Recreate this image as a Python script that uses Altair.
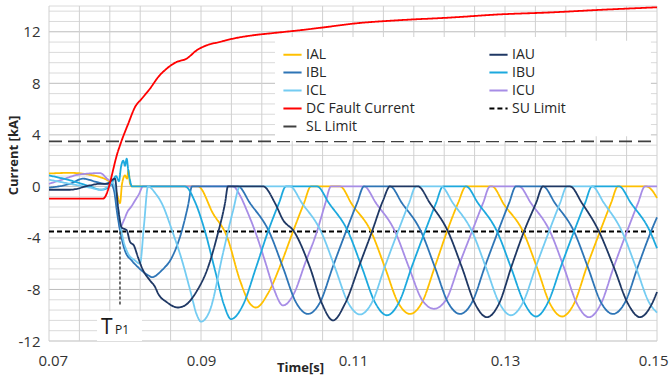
import altair as alt
import pandas as pd

# ---- data (time in ms, current in kA) ----
t_IAL = [70.0, 72.76, 75.39, 76.71, 77.76, 78.42, 78.95, 79.34, 79.61, 80.0, 80.26, 80.46, 80.66, 80.92,
         89.61, 91.58, 93.42, 95.13, 96.45, 97.24, 98.82, 100.53, 102.11, 103.55, 104.47,
         108.29, 109.87, 112.37, 114.21, 115.92, 117.5, 119.08, 120.79, 122.37, 123.82, 124.87,
         128.29, 129.87, 132.37, 134.21, 135.92, 137.5, 139.08, 140.79, 142.5, 143.95, 144.87,
         148.55, 149.34, 150.0]
v_IAL = [1.0, 1.05, 0.9, 0.72, 0.45, 0.1, -0.6, -1.3, 0.2, 0.85, 0.6, 1.25, 0.2, 0.0,
         0.0, -2.1, -3.9, -7.3, -9.1, -9.4, -8.3, -6.0, -3.5, -1.3, 0.0,
         0.0, -1.4, -3.5, -6.3, -9.0, -9.9, -9.0, -6.2, -3.5, -1.3, 0.0,
         0.0, -1.4, -3.5, -6.3, -9.1, -10.1, -9.1, -6.2, -3.5, -1.3, 0.0,
         0.0, -0.3, -0.9]

t_IAU = [70.0, 72.76, 75.39, 76.71, 77.76, 78.29, 78.68, 79.08, 79.57, 80.22, 80.66, 81.18, 81.71, 82.37,
         83.29, 83.95, 84.34, 85.53, 86.97, 87.89, 89.47, 90.79, 92.11, 93.16, 93.55,
         98.16, 99.74, 100.79, 102.24, 104.34, 105.92, 107.37, 108.95, 110.92, 112.5, 113.95, 114.87,
         118.55, 120.13, 122.5, 124.34, 126.05, 127.63, 129.21, 130.92, 132.5, 134.08, 135.0,
         138.55, 140.13, 142.37, 144.34, 146.18, 147.76, 149.34, 150.0]
v_IAU = [-0.26, -0.26, 0.08, 0.2, 0.2, 0.5, 0.6, -1.6, -3.2, -3.4, -4.3, -4.6, -5.5, -6.5,
         -7.3, -7.8, -8.3, -9.0, -9.4, -9.24, -8.1, -6.5, -3.9, -1.3, 0.0,
         0.0, -1.3, -2.6, -3.5, -6.3, -9.1, -10.4, -9.1, -6.0, -3.5, -1.1, 0.0,
         0.0, -1.3, -3.5, -6.3, -9.1, -10.15, -9.1, -6.1, -3.5, -1.3, 0.0,
         0.0, -1.3, -3.5, -6.3, -9.1, -10.15, -9.1, -8.2]

t_IBL = [70.0, 72.76, 74.47, 76.32, 77.37, 78.03, 78.55, 78.95, 79.34, 80.0, 80.88, 81.71, 83.03, 83.55,
         84.87, 86.18, 87.5, 88.29, 88.82,
         94.87, 96.45, 98.95, 100.79, 102.5, 104.08, 105.66, 107.37, 109.08, 110.53, 111.45,
         114.87, 116.45, 118.95, 120.79, 122.5, 124.08, 125.66, 127.37, 129.08, 130.53, 131.45,
         135.0, 136.58, 139.08, 140.92, 142.63, 144.21, 145.79, 147.5, 149.21, 150.0]
v_IBL = [-0.1, 0.2, 0.6, 0.33, 0.2, 0.3, -0.3, -2.0, -3.4, -5.0, -5.75, -6.27, -6.9, -7.04,
         -6.5, -5.5, -3.4, -1.5, 0.0,
         0.0, -1.3, -3.5, -6.3, -9.0, -9.9, -9.0, -6.2, -3.5, -1.3, 0.0,
         0.0, -1.3, -3.5, -6.3, -9.0, -9.9, -9.0, -6.2, -3.5, -1.3, 0.0,
         0.0, -1.3, -3.5, -6.3, -9.0, -9.9, -9.0, -6.2, -3.5, -2.4]

t_IBU = [70.0, 72.76, 75.39, 76.84, 77.76, 78.29, 78.82, 79.21, 79.47, 79.78, 80.0, 80.22, 80.43, 80.66, 80.92,
         87.89, 89.21, 90.53, 91.84, 93.03, 93.95, 95.53, 97.24, 98.82, 100.26, 101.18,
         105.26, 106.84, 109.34, 111.18, 112.89, 114.47, 116.05, 117.76, 119.47, 120.92, 121.84,
         124.87, 126.45, 128.95, 130.79, 132.5, 134.08, 135.66, 137.37, 139.08, 140.53, 141.45,
         145.0, 146.58, 149.08, 150.0]
v_IBU = [0.85, 0.47, 0.0, -0.26, -0.1, 0.3, 0.8, 0.4, 1.5, 2.0, 1.6, 2.15, 1.24, 0.47, 0.0,
         0.0, -1.2, -3.5, -6.5, -9.2, -10.3, -9.2, -6.3, -3.5, -1.3, 0.0,
         0.0, -1.3, -3.5, -6.3, -9.0, -10.0, -9.0, -6.2, -3.5, -1.3, 0.0,
         0.0, -1.3, -3.5, -6.3, -9.0, -10.1, -9.0, -6.2, -3.5, -1.3, 0.0,
         0.0, -1.3, -3.5, -4.8]

t_ICL = [70.0, 72.76, 75.39, 76.84, 77.76, 78.29, 78.82, 79.21, 79.61, 80.39, 81.32, 81.97, 82.5, 83.03,
         83.95, 84.87, 86.18, 87.5, 88.55, 89.47, 90.0, 91.18, 92.89, 94.21, 95.13,
         101.71, 103.29, 105.79, 107.63, 109.34, 110.92, 112.5, 114.21, 115.92, 117.37, 118.29,
         121.58, 123.16, 125.66, 127.5, 129.21, 130.79, 132.37, 134.08, 135.79, 137.24, 138.16,
         141.45, 143.03, 145.39, 147.24, 148.95, 150.0]
v_ICL = [0.52, 0.2, -0.1, -0.26, 0.0, 0.3, -0.5, -2.2, -3.7, -5.2, -5.75, -6.0, -3.0, 0.0,
         -0.5, -1.35, -3.4, -5.75, -8.0, -10.0, -10.5, -9.6, -5.2, -1.9, 0.0,
         0.0, -1.3, -3.5, -6.3, -9.0, -9.94, -9.0, -6.2, -3.5, -1.3, 0.0,
         0.0, -1.3, -3.5, -6.3, -9.0, -10.0, -9.0, -6.2, -3.5, -1.3, 0.0,
         0.0, -1.3, -3.5, -6.3, -9.0, -9.8]

t_ICU = [70.0, 71.45, 74.08, 76.71, 77.63, 78.29, 78.68, 79.08, 79.34, 79.87, 80.39, 80.79, 81.32, 81.84, 82.37,
         94.21, 95.13, 96.05, 97.37, 98.42, 99.61, 100.79, 102.24, 103.68, 105.26, 106.32, 107.11,
         111.45, 113.03, 115.53, 117.37, 119.08, 120.66, 122.24, 123.95, 125.66, 127.11, 128.03,
         131.84, 133.42, 135.92, 137.76, 139.47, 141.05, 142.63, 144.34, 146.05, 147.5, 148.42, 150.0]
v_ICU = [0.2, 0.47, 0.93, 1.03, 0.6, 0.2, -0.5, -2.0, -3.2, -2.6, -1.9, -1.6, -1.1, -0.6, 0.0,
         0.0, -0.7, -1.9, -3.9, -5.8, -8.0, -9.24, -8.3, -6.0, -3.5, -1.4, 0.0,
         0.0, -1.3, -3.5, -6.3, -8.8, -9.5, -8.8, -6.1, -3.5, -1.3, 0.0,
         0.0, -1.3, -3.5, -6.3, -9.1, -10.15, -9.1, -6.2, -3.5, -1.3, 0.0, 0.0]

t_DC = [70.0, 77.11, 79.12, 79.57, 80.43, 81.32, 82.2, 83.29, 84.38, 85.49, 86.8, 88.12, 89.43, 90.75,
        92.5, 94.25, 96.88, 99.51, 103.03, 106.54, 110.0, 116.18, 122.76, 129.34, 135.92, 142.5, 150.0]
v_DC = [-0.95, -0.95, 2.8, 3.57, 4.87, 6.16, 6.8, 7.59, 8.49, 9.14, 9.66, 9.92, 10.56, 10.95,
        11.21, 11.47, 11.73, 11.9, 12.12, 12.37, 12.63, 12.9, 13.1, 13.35, 13.5, 13.7, 13.9]

t_limit = [70.0, 150.0]
SU_LIMIT = -3.5
SL_LIMIT = 3.5

TP1_TIME = 79.34
TP1_BOTTOM = -9.3

# axis ticks / gridlines
x_labels = [0.07, 0.09, 0.11, 0.13, 0.15]
y_labels = [-12, -8, -4, 0, 4, 8, 12]
x_grid = [round(0.07 + 0.004 * k, 3) for k in range(21)]
y_grid_minor = [round(-12 + 0.8 * k, 1) for k in range(33) if k % 5 != 0] + [14]
y_grid_major = y_labels

# legend order arranged so that a 2-column (column-filled) legend reads row-wise like the reference
series_names = ["IAL", "IBL", "ICL", "DC Fault Current", "SL Limit", "IAU", "IBU", "ICU", "SU Limit"]
series_colors = ["#FFC000", "#2E75B6", "#74CCF2", "#FF0000", "#404040", "#1F3864", "#1CA9DE", "#A78DE6", "#000000"]
series_dash = [[1, 0], [1, 0], [1, 0], [1, 0], [13, 6], [1, 0], [1, 0], [1, 0], [5, 3]]
draw_order = ["SU Limit", "SL Limit", "IAL", "ICU", "IBL", "IBU", "ICL", "IAU", "DC Fault Current"]

series_data = {
    "IAL": (t_IAL, v_IAL), "IAU": (t_IAU, v_IAU), "IBL": (t_IBL, v_IBL),
    "IBU": (t_IBU, v_IBU), "ICL": (t_ICL, v_ICL), "ICU": (t_ICU, v_ICU),
    "DC Fault Current": (t_DC, v_DC),
    "SU Limit": (t_limit, [SU_LIMIT] * len(t_limit)),
    "SL Limit": (t_limit, [SL_LIMIT] * len(t_limit)),
}

rows = []
for name in draw_order:
    ts, vs = series_data[name]
    for tt, vv in zip(ts, vs):
        rows.append({"t": tt / 1000.0, "v": vv, "series": name})
df = pd.DataFrame(rows)

FONT = "Open Sans"
x_scale = alt.Scale(domain=[0.07, 0.15], nice=False, zero=False)
y_scale = alt.Scale(domain=[-12, 14], nice=False, zero=False)

x_axis = alt.Axis(values=x_labels, title="Time[s]", grid=False, ticks=False, domain=False,
                  labelPadding=12, labelFontSize=15, labelOverlap=False, labelBound=False,
                  labelFlush=True, labelFlushOffset=11,
                  tickCount=100, labelExpr="'' + datum.value",
                  titleX=251, titleY=26, titleBaseline="middle", titleAlign="center",
                  titleFontSize=13, titleFontWeight="bold")
y_axis = alt.Axis(values=y_labels, title="Current [kA]", grid=False, ticks=False, domain=False,
                  labelPadding=9, labelFontSize=15, labelOverlap=False, labelBound=False, labelFlush=False,
                  tickCount=100, labelExpr="'' + datum.value",
                  titleX=-36, titleY=149, titleAngle=-90, titleBaseline="middle",
                  titleAlign="center", titleFontSize=13, titleFontWeight="bold")

X = alt.X("t:Q", scale=x_scale, axis=x_axis)
Y = alt.Y("v:Q", scale=y_scale, axis=y_axis)

ygrid_minor = alt.Chart(pd.DataFrame({"v": y_grid_minor})).mark_rule(color="#DADADA", strokeWidth=1).encode(y=Y)
ygrid_major = alt.Chart(pd.DataFrame({"v": y_grid_major})).mark_rule(color="#BDBDBD", strokeWidth=1).encode(y=Y)
xgrid = alt.Chart(pd.DataFrame({"t": x_grid})).mark_rule(color="#D0D0D0", strokeWidth=1).encode(x=X)

legend = alt.Legend(title=None, orient="none", legendX=226, legendY=31, columns=2,
                    symbolType="stroke", symbolSize=330, symbolStrokeWidth=2,
                    labelFontSize=14, labelFont=FONT, labelColor="#262626", labelOffset=3,
                    columnPadding=70, rowPadding=0, padding=7, fillColor="white", labelLimit=250)

lines = alt.Chart(df).mark_line(interpolate="monotone", strokeWidth=1.8).encode(
    x=X, y=Y,
    color=alt.Color("series:N", scale=alt.Scale(domain=series_names, range=series_colors), legend=legend),
    strokeDash=alt.StrokeDash("series:N", scale=alt.Scale(domain=series_names, range=series_dash), legend=legend),
)

# white panels: behind the T_P1 label and the right part of the legend box
box_df = pd.DataFrame({"t": [0.07632, 0.1385], "t2": [0.08224, 0.1492],
                       "v": [-12.0, 3.9], "v2": [-9.7, 11.3]})
box = alt.Chart(box_df).mark_rect(color="white").encode(x=X, x2="t2:Q", y=Y, y2="v2:Q")

tp_df = pd.DataFrame({"t": [TP1_TIME / 1000.0], "v": [SU_LIMIT], "v2": [TP1_BOTTOM]})
tp_rule = alt.Chart(tp_df).mark_rule(color="#404040", strokeDash=[3, 2], strokeWidth=1.5).encode(
    x=X, y=Y, y2="v2:Q")

t_text_df = pd.DataFrame({"t": [0.07684], "v": [-11.42], "label": ["T"]})
p_text_df = pd.DataFrame({"t": [0.07868], "v": [-11.42], "label": ["P1"]})
t_text = alt.Chart(t_text_df).mark_text(font=FONT, fontSize=21, align="left", baseline="alphabetic",
                                        color="#1a1a1a").encode(x=X, y=Y, text="label:N")
p_text = alt.Chart(p_text_df).mark_text(font=FONT, fontSize=12, align="left", baseline="alphabetic",
                                        color="#1a1a1a").encode(x=X, y=Y, text="label:N")

chart = alt.layer(ygrid_minor, ygrid_major, xgrid, box, lines, tp_rule, t_text, p_text).properties(
    width=608, height=335,
    autosize=alt.AutoSizeParams(type="none"),
    padding={"left": 49, "top": 6, "right": 12, "bottom": 35},
    background="white",
).configure_view(strokeWidth=0).configure_axis(
    labelFont=FONT, titleFont=FONT, labelColor="#333333", titleColor="#262626"
)

chart.save("out.html", embed_options={"renderer": "svg", "actions": False})
